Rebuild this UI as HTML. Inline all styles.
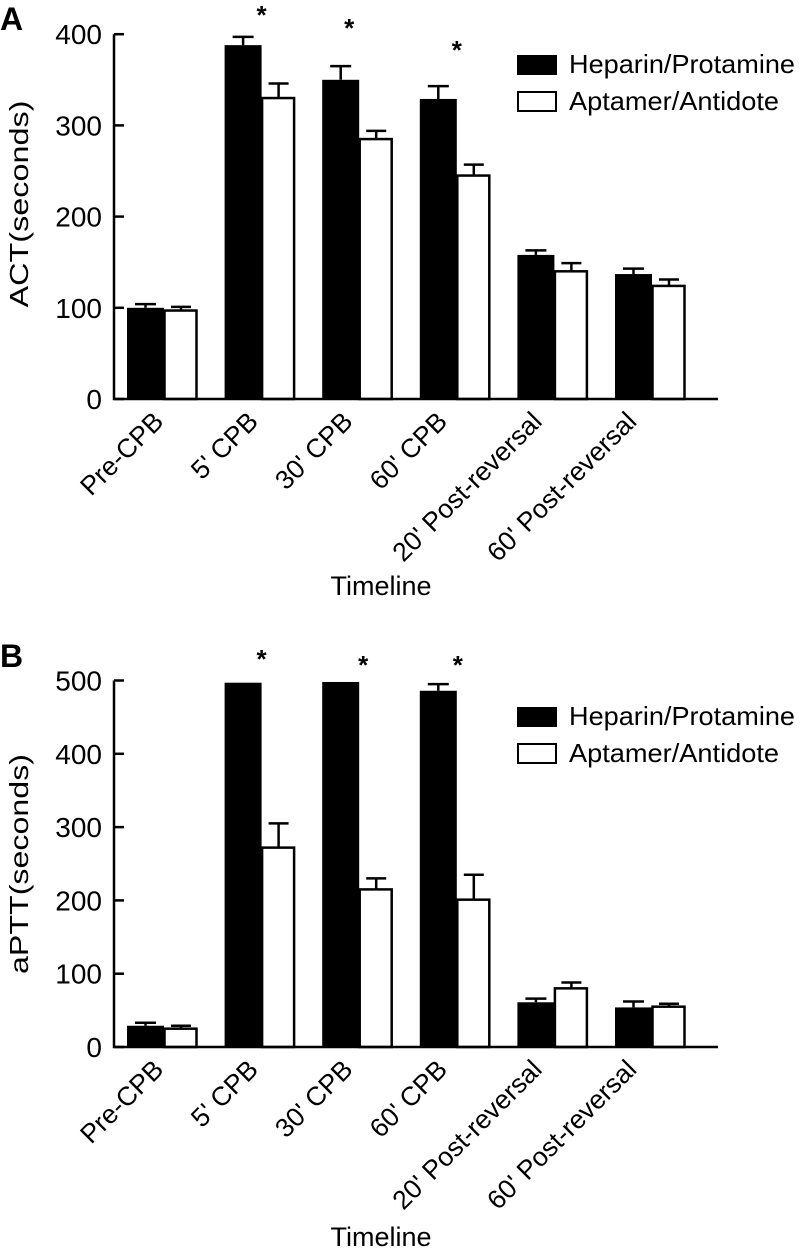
<!DOCTYPE html>
<html><head><meta charset="utf-8">
<style>
html,body{margin:0;padding:0;background:#fff;}
svg{display:block;font-family:"Liberation Sans",Arial,sans-serif;}
</style></head>
<body>
<svg id="chart" width="800" height="1250" viewBox="0 0 800 1250" xmlns="http://www.w3.org/2000/svg"></svg>
<script>
const categories = ["Pre-CPB","5' CPB","30' CPB","60' CPB","20' Post-reversal","60' Post-reversal"];
const actHeparin = [100, 388, 350, 329, 158, 137];
const actHeparinErr = [4, 9, 15, 14, 5, 6];
const actAptamer = [97, 330, 285, 245, 140, 124];
const actAptamerErr = [4, 16, 9, 12, 9, 7];
const actTicks = [0, 100, 200, 300, 400];
const apttHeparin = [29, 497, 498, 486, 61, 54];
const apttHeparinErr = [4, 0, 0, 9, 5, 8];
const apttAptamer = [25, 272, 215, 201, 80, 55];
const apttAptamerErr = [4, 33, 15, 34, 8, 4];
const apttTicks = [0, 100, 200, 300, 400, 500];
const actStars = [1, 2, 3];
const apttStars = [1, 2, 3];

const NS = "http://www.w3.org/2000/svg";
const svg = document.getElementById('chart');
function mk(tag, attrs, parent, text){
  const e = document.createElementNS(NS, tag);
  for (const k in attrs) e.setAttribute(k, attrs[k]);
  if (text !== undefined) e.textContent = text;
  (parent||svg).appendChild(e);
  return e;
}

function panel(cfg){
  const g = mk('g', {});
  
  
  const y = v => cfg.base - (v - 0) * cfg.pxPer;
  const xGroup = i => 127 + i * 97.6;
  const xLabel = i => 165 + i * 94.6;
  const L = mk('text', {x: 0, y: cfg.letterY, 'font-size': 32, 'font-weight': 'bold'}, g, cfg.letter);
  
  
  cfg.h.forEach((v, i) => {
    const x0 = xGroup(i);
    const e1 = cfg.he[i];
    if (e1 > 0) {
      const el = mk('path', {d: `M${x0+18.5} ${y(v)} V${y(v+e1)} M${x0+8} ${y(v+e1)} H${x0+29}`, stroke: '#000', 'stroke-width': 2.5, fill: 'none'}, g);
      
      
    }
    const b = mk('rect', {x: x0, y: y(v), width: 37, height: cfg.base - y(v), fill: '#000'}, g);
    
    
    const w = cfg.a[i], e2 = cfg.ae[i];
    const e = mk('path', {d: `M${x0+54} ${y(w)} V${y(w+e2)} M${x0+44} ${y(w+e2)} H${x0+64}`, stroke: '#000', 'stroke-width': 2.5, fill: 'none'}, g);
    
    
    const wb = mk('rect', {x: x0 + 37.5, y: y(w), width: 32, height: cfg.base - y(w), fill: '#fff', stroke: '#000', 'stroke-width': 2.5}, g);
    
    
    const cx = xLabel(i), ly = cfg.base + 24;
    const t = mk('text', {x: cx, y: ly, 'font-size': 26.5, 'text-anchor': 'end', transform: `rotate(-45 ${cx} ${ly})`}, g, categories[i]);
    
    
  });
  cfg.stars.forEach((i, k) => {
    const s = mk('text', {x: xGroup(i) + cfg.starDx[k], y: cfg.starY[k], 'font-size': 26, 'font-weight': 'bold', 'text-anchor': 'middle'}, g, '*');
    
    
  });
  const top = y(cfg.ticks[cfg.ticks.length - 1]);
  const ax = mk('path', {d: `M114 ${top} V${cfg.base} H718`, stroke: '#000', 'stroke-width': 2.5, fill: 'none'}, g);
  
  
  cfg.ticks.forEach(t => {
    const tk = mk('line', {x1: 114, x2: 124, y1: y(t), y2: y(t), stroke: '#000', 'stroke-width': 2.5}, g);
    
    
    const tl = mk('text', {x: 102, y: y(t) + 10, 'font-size': 28, 'text-anchor': 'end'}, g, String(t));
    
    
  });
  const yt = mk('text', {x: 0, y: 0, 'font-size': 26, 'text-anchor': 'middle', textLength: cfg.yTitleLen, lengthAdjust: 'spacingAndGlyphs', transform: `translate(28 ${cfg.yTitleY}) rotate(-90)`}, g, cfg.yTitle);
  
  
  const xt = mk('text', {x: 381, y: cfg.xTitleY, 'font-size': 27, 'text-anchor': 'middle'}, g, 'Timeline');
  
  
  const lg = mk('g', {}, g);
  
  
  const r1 = mk('rect', {x: 517, y: cfg.legY, width: 40, height: 20, fill: '#000'}, lg);
  
  
  const t1 = mk('text', {x: 569, y: cfg.legY + 18, 'font-size': 26, textLength: 226, lengthAdjust: 'spacingAndGlyphs'}, lg, 'Heparin/Protamine');
  
  
  const r2 = mk('rect', {x: 518, y: cfg.legY + 37, width: 38, height: 19, fill: '#fff', stroke: '#000', 'stroke-width': 2}, lg);
  
  
  const t2 = mk('text', {x: 569, y: cfg.legY + 55, 'font-size': 26, textLength: 210, lengthAdjust: 'spacingAndGlyphs'}, lg, 'Aptamer/Antidote');
  
  
}

panel({name: 'panel-a-act', letter: 'A', letterY: 30, base: 399, pxPer: 0.912, ticks: actTicks,
  h: actHeparin, he: actHeparinErr, a: actAptamer, ae: actAptamerErr,
  stars: actStars, starDx: [37, 27, 37], starY: [24, 37, 59],
  yTitle: 'ACT(seconds)', yTitleLen: 207, yTitleY: 204, xTitleY: 595, legY: 55});
panel({name: 'panel-b-aptt', letter: 'B', letterY: 667, base: 1047, pxPer: 0.733, ticks: apttTicks,
  h: apttHeparin, he: apttHeparinErr, a: apttAptamer, ae: apttAptamerErr,
  stars: apttStars, starDx: [37, 41, 38], starY: [668, 674, 674],
  yTitle: 'aPTT(seconds)', yTitleLen: 220, yTitleY: 864, xTitleY: 1246, legY: 707});
</script>
</body></html>
